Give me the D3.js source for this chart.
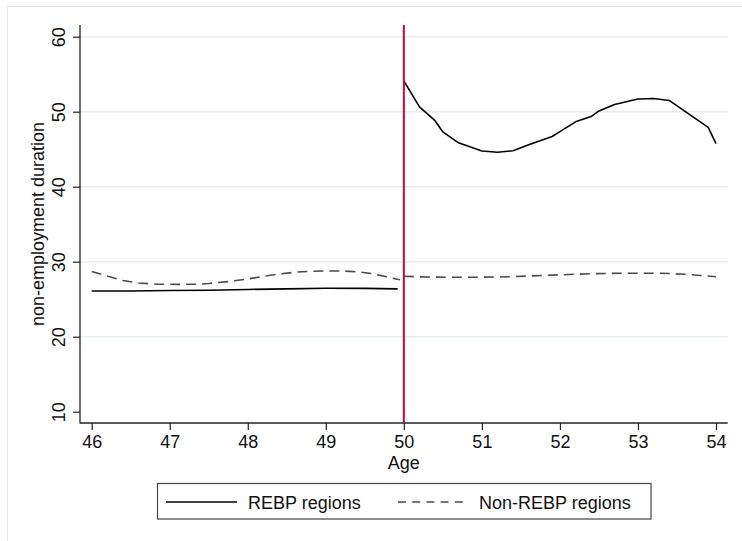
<!DOCTYPE html>
<html>
<head>
<meta charset="utf-8">
<script src="https://cdn.jsdelivr.net/npm/d3@7"></script>
<style>
  html, body { margin: 0; padding: 0; background: #fff; }
  svg { display: block; font-family: "Liberation Sans", Arial, Helvetica, sans-serif; }
</style>
</head>
<body>
<svg id="chart" width="742" height="541"></svg>
<script>
// Smoothed non-employment duration by age, before and after the age-50 threshold
const rebpPreAge   = [46, 46.5, 47, 47.5, 48, 48.5, 49, 49.5, 49.92];
const rebpPreVal   = [26.1, 26.1, 26.15, 26.2, 26.3, 26.38, 26.45, 26.45, 26.38];
const rebpPostAge  = [50.0, 50.2, 50.4, 50.5, 50.7, 51.0, 51.2, 51.4, 51.6, 51.9, 52.0, 52.2, 52.4, 52.5, 52.7, 53.0, 53.2, 53.4, 53.9, 54.0];
const rebpPostVal  = [54.1, 50.65, 48.8, 47.3, 45.85, 44.75, 44.6, 44.8, 45.6, 46.7, 47.35, 48.65, 49.35, 50.1, 50.95, 51.7, 51.75, 51.5, 47.9, 45.75];
const nonPreAge    = [46.0, 46.13, 46.4, 46.6, 46.85, 47.1, 47.35, 47.5, 47.75, 48.0, 48.2, 48.4, 48.6, 48.8, 49.0, 49.25, 49.45, 49.6, 49.75, 49.9, 49.95];
const nonPreVal    = [28.7, 28.3, 27.5, 27.15, 27.0, 26.98, 27.0, 27.1, 27.35, 27.7, 28.05, 28.35, 28.6, 28.72, 28.77, 28.75, 28.6, 28.4, 28.05, 27.7, 27.6];
const nonPostAge   = [50.0, 50.3, 50.6, 50.9, 51.2, 51.4, 51.6, 51.8, 52.0, 52.2, 52.4, 52.6, 52.8, 53.0, 53.2, 53.4, 53.6, 53.8, 54.0];
const nonPostVal   = [28.05, 27.95, 27.92, 27.93, 27.96, 28.0, 28.1, 28.17, 28.25, 28.33, 28.4, 28.43, 28.47, 28.47, 28.47, 28.42, 28.32, 28.17, 28.0];
const xTicks       = [46, 47, 48, 49, 50, 51, 52, 53, 54];
const yTicks       = [10, 20, 30, 40, 50, 60];
const cutoffAge    = 50;
const legendLabels = ["REBP regions", "Non-REBP regions"];

const svg = d3.select("#chart");

// plot region
const plot = { left: 80, right: 727.7, top: 25, bottom: 423 };
const x = d3.scaleLinear().domain([46, 54]).range([91.7, 716]);
const y = d3.scaleLinear().domain([10, 60]).range([411.7, 36.7]);

// outer graph-region frame (only its top and left edges fall inside the view)
svg.append("path")
  .attr("d", "M7.5,541 V6.5 H742")
  .attr("fill", "none").attr("stroke", "#e3eaec").attr("stroke-width", 1.2);

// horizontal grid lines
svg.append("g").selectAll("line")
  .data(yTicks.filter(d => d > 10))
  .join("line")
  .attr("x1", plot.left).attr("x2", plot.right)
  .attr("y1", d => y(d)).attr("y2", d => y(d))
  .attr("stroke", "#e4edf0").attr("stroke-width", 1.6);

// y axis with rotated tick labels
const yAxis = svg.append("g")
  .attr("transform", `translate(${plot.left},0)`)
  .call(d3.axisLeft(y).tickValues(yTicks).tickSize(7).tickFormat(d3.format("d")));
yAxis.select(".domain").remove();
yAxis.selectAll(".tick line").attr("stroke", "#222").attr("stroke-width", 1.2);
yAxis.selectAll(".tick text")
  .attr("x", 0).attr("y", 0).attr("dy", null)
  .attr("transform", "translate(-15,0) rotate(-90)")
  .attr("text-anchor", "middle")
  .attr("font-size", 18).attr("fill", "#111");

// x axis
const xAxis = svg.append("g")
  .attr("transform", `translate(0,${plot.bottom})`)
  .call(d3.axisBottom(x).tickValues(xTicks).tickSize(7).tickPadding(5).tickFormat(d3.format("d")));
xAxis.select(".domain").remove();
xAxis.selectAll(".tick line").attr("stroke", "#222").attr("stroke-width", 1.2);
xAxis.selectAll(".tick text").attr("font-size", 18).attr("fill", "#111");

// axis lines
svg.append("line")
  .attr("x1", plot.left).attr("x2", plot.left)
  .attr("y1", plot.top).attr("y2", plot.bottom + 0.6)
  .attr("stroke", "#222").attr("stroke-width", 1.3);
svg.append("line")
  .attr("x1", plot.left).attr("x2", plot.right)
  .attr("y1", plot.bottom).attr("y2", plot.bottom)
  .attr("stroke", "#222").attr("stroke-width", 1.3);

// axis titles
svg.append("text")
  .attr("transform", `translate(44,${(plot.top + plot.bottom) / 2}) rotate(-90)`)
  .attr("text-anchor", "middle")
  .attr("font-size", 18).attr("fill", "#111")
  .text("non-employment duration");
svg.append("text")
  .attr("x", (plot.left + plot.right) / 2).attr("y", 469)
  .attr("text-anchor", "middle")
  .attr("font-size", 18).attr("fill", "#111")
  .text("Age");

// series
const line = d3.line().x(d => x(d[0])).y(d => y(d[1]));
const zip = (a, b) => a.map((v, i) => [v, b[i]]);

const solidStyle = s => s.attr("fill", "none").attr("stroke", "#000").attr("stroke-width", 1.6).attr("stroke-linejoin", "round");
const dashStyle  = s => s.attr("fill", "none").attr("stroke", "#4a4a4a").attr("stroke-width", 1.6).attr("stroke-dasharray", "10,6");

svg.append("path").datum(zip(nonPreAge, nonPreVal)).attr("d", line).call(dashStyle);
svg.append("path").datum(zip(nonPostAge, nonPostVal)).attr("d", line).call(dashStyle);
svg.append("path").datum(zip(rebpPreAge, rebpPreVal)).attr("d", line).call(solidStyle);
svg.append("path").datum(zip(rebpPostAge, rebpPostVal)).attr("d", line).call(solidStyle);

// cutoff line at age 50
svg.append("line")
  .attr("x1", x(cutoffAge)).attr("x2", x(cutoffAge))
  .attr("y1", plot.top).attr("y2", plot.bottom)
  .attr("stroke", "#c40a36").attr("stroke-width", 2);

// legend
const lg = svg.append("g");
lg.append("rect")
  .attr("x", 157.5).attr("y", 483.5).attr("width", 493.5).attr("height", 35.5)
  .attr("fill", "#fff").attr("stroke", "#444").attr("stroke-width", 1.2);
lg.append("line").attr("x1", 166).attr("x2", 237).attr("y1", 502).attr("y2", 502)
  .attr("stroke", "#000").attr("stroke-width", 1.6);
lg.append("text").attr("x", 248).attr("y", 508.5).attr("font-size", 18).attr("fill", "#111").text(legendLabels[0]);
lg.append("line").attr("x1", 398).attr("x2", 467).attr("y1", 502).attr("y2", 502)
  .attr("stroke", "#4a4a4a").attr("stroke-width", 1.6).attr("stroke-dasharray", "8,6.2");
lg.append("text").attr("x", 479).attr("y", 508.5).attr("font-size", 18).attr("fill", "#111").text(legendLabels[1]);
</script>
</body>
</html>
